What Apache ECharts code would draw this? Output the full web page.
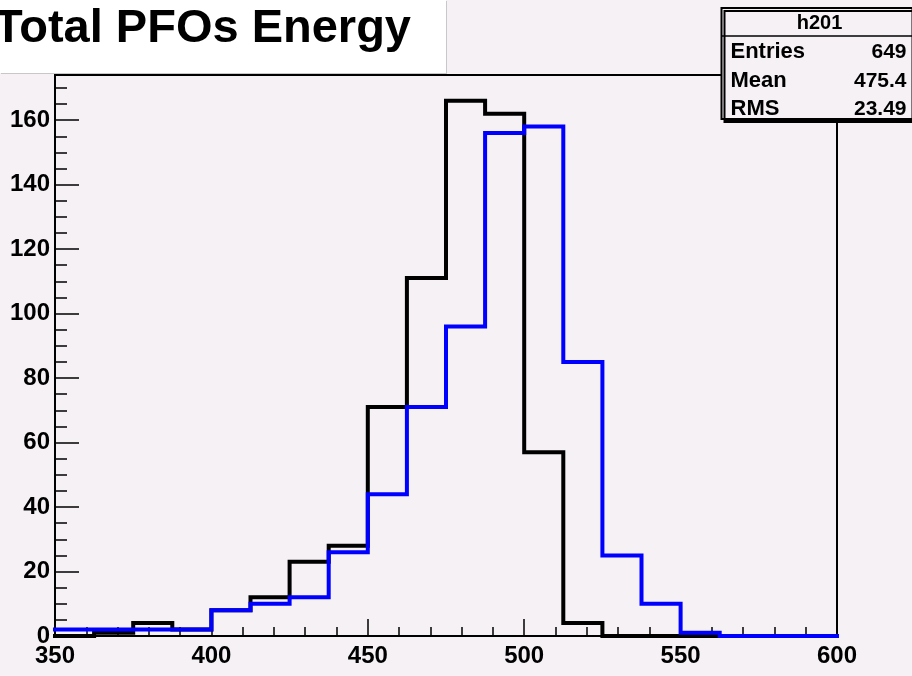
<!DOCTYPE html>
<html>
<head>
<meta charset="utf-8">
<script src="https://cdn.jsdelivr.net/npm/echarts@6/dist/echarts.min.js"></script>
<style>
  html, body { margin: 0; padding: 0; background: #f5f1f5; }
  #chart { width: 912px; height: 676px; }
</style>
</head>
<body>
<div id="chart"></div>
<script>
// ---- data ----
const titleText = 'Total PFOs Energy';
const binEdges = [350, 362.5, 375, 387.5, 400, 412.5, 425, 437.5, 450, 462.5, 475, 487.5, 500, 512.5, 525, 537.5, 550, 562.5, 575, 587.5, 600];
const blackCounts = [0, 1, 4, 2, 8, 12, 23, 28, 71, 111, 166, 162, 57, 4, 0, 0, 0, 0, 0, 0];
const blueCounts  = [2, 2, 2, 2, 8, 10, 12, 26, 44, 71, 96, 156, 158, 85, 25, 10, 1, 0, 0, 0];
const statsName = 'h201';
const statsLabels = ['Entries', 'Mean', 'RMS'];
const statsValues = ['649', '475.4', '23.49'];
const xMin = 350, xMax = 600, yMin = 0, yMax = 174;

// ---- build histogram outlines from bins ----
function stepPoints(counts) {
  const pts = [];
  counts.forEach((v, i) => {
    pts.push([binEdges[i], v], [binEdges[i + 1], v]);
  });
  return pts;
}

const FONT = '"Liberation Sans", Arial, Helvetica, sans-serif';
const chart = echarts.init(document.getElementById('chart'));

const statsRowY = [51, 80, 108];
const statsGraphic = {
  type: 'group', left: 719, top: 7, z: 100,
  children: [
    { type: 'rect', shape: { x: 0, y: 0, width: 191, height: 111 },
      style: { fill: '#f5f1f5', stroke: '#000', lineWidth: 2,
               shadowColor: '#000', shadowOffsetX: 3, shadowOffsetY: 3, shadowBlur: 0 } },
    { type: 'line', shape: { x1: 0, y1: 28, x2: 191, y2: 28 }, style: { stroke: '#000', lineWidth: 1.5 } },
    { type: 'text', x: 98, y: 15, style: { text: statsName, fill: '#000', font: 'bold 20px ' + FONT, align: 'center', verticalAlign: 'middle' } }
  ].concat(statsLabels.map((l, i) => ({
    type: 'text', x: 9, y: statsRowY[i] - 7,
    style: { text: l, fill: '#000', font: 'bold 22px ' + FONT, align: 'left', verticalAlign: 'middle' }
  }))).concat(statsValues.map((v, i) => ({
    type: 'text', x: 185, y: statsRowY[i] - 7,
    style: { text: v, fill: '#000', font: 'bold 21px ' + FONT, align: 'right', verticalAlign: 'middle' }
  })))
};

const option = {
  backgroundColor: '#f5f1f5',
  animation: false,
  title: {
    text: titleText, left: -6, top: 6, padding: 0, z: 10,
    textStyle: { fontSize: 47, fontWeight: 'bold', color: '#000', fontFamily: FONT }
  },
  graphic: [
    { type: 'rect', left: 0, top: 0, z: 5, shape: { width: 446, height: 73 },
      style: { fill: '#ffffff', shadowColor: '#c8c8c8', shadowOffsetX: 1, shadowOffsetY: 1, shadowBlur: 0 } },
    statsGraphic
  ],
  grid: {
    left: 55, top: 75, right: 75, bottom: 40,
    show: true, borderColor: '#000', borderWidth: 2, backgroundColor: 'transparent'
  },
  xAxis: {
    type: 'value', min: xMin, max: xMax, interval: 50,
    axisLine: { show: true, onZero: false, lineStyle: { color: '#000', width: 2 } },
    axisTick: { show: true, inside: true, length: 17, lineStyle: { color: '#000', width: 1.5 } },
    minorTick: { show: true, splitNumber: 5, length: 9, lineStyle: { color: '#000', width: 1.5 } },
    splitLine: { show: false },
    axisLabel: { margin: 8, color: '#000', fontSize: 24, fontWeight: 'bold', fontFamily: FONT }
  },
  yAxis: [
    {
      type: 'value', min: yMin, max: yMax, interval: 20,
      axisLine: { show: true, lineStyle: { color: '#000', width: 2 } },
      axisTick: { show: true, inside: true, length: 24, lineStyle: { color: '#000', width: 1.5 } },
      splitLine: { show: false },
      axisLabel: { margin: 5, color: '#000', fontSize: 24, fontWeight: 'bold', fontFamily: FONT, showMaxLabel: false }
    },
    {
      type: 'value', min: yMin, max: yMax, interval: 5, position: 'left', offset: 0,
      axisLine: { show: false },
      axisTick: { show: true, inside: true, length: 12, lineStyle: { color: '#000', width: 1.5 } },
      splitLine: { show: false },
      axisLabel: { show: false }
    }
  ],
  series: [
    { name: 'black', type: 'line', data: stepPoints(blackCounts), symbol: 'none', clip: true, z: 3,
      lineStyle: { color: '#000000', width: 4, join: 'miter', cap: 'square' } },
    { name: 'blue', type: 'line', data: stepPoints(blueCounts), symbol: 'none', clip: true, z: 4,
      lineStyle: { color: '#0000ff', width: 4, join: 'miter', cap: 'square' } }
  ]
};
chart.setOption(option);
</script>
</body>
</html>
